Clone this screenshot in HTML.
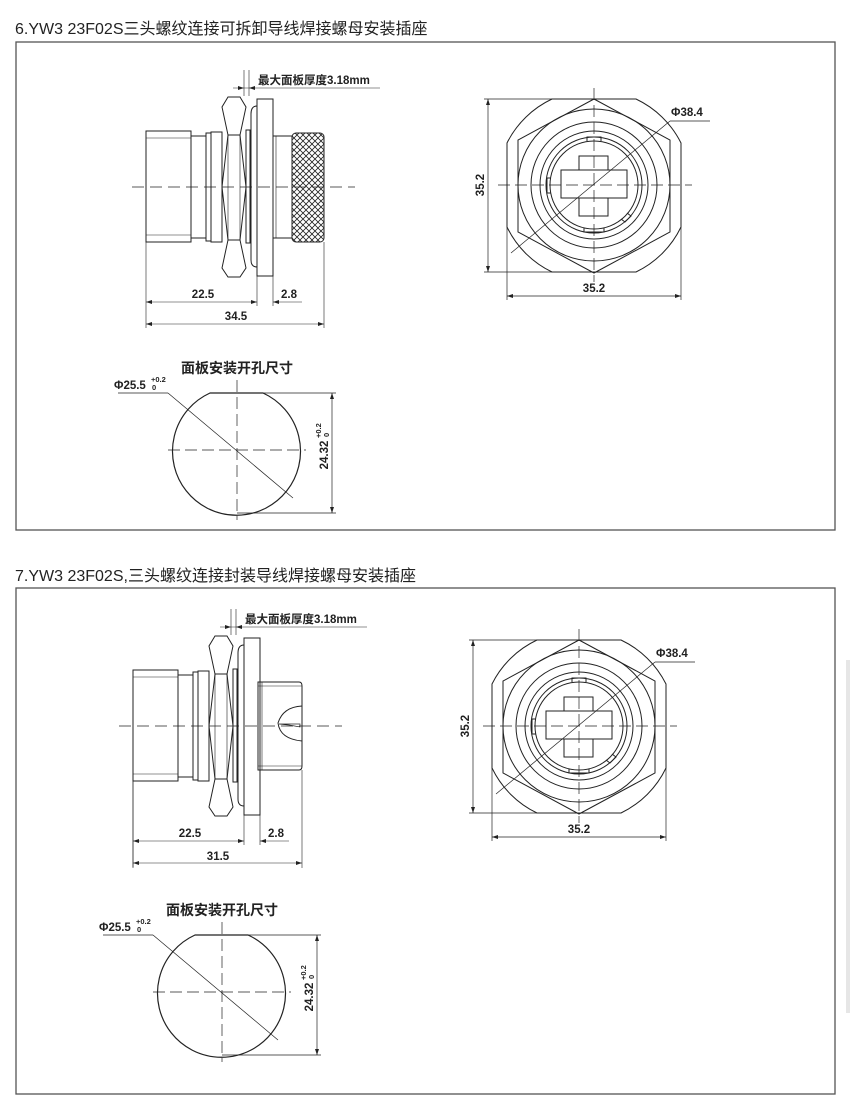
<!DOCTYPE html>
<html><head><meta charset="utf-8"><style>
html,body{margin:0;padding:0;background:#fff;}
svg{display:block;}
text{font-family:"Liberation Sans","Noto Sans CJK SC",sans-serif;fill:#222;}
</style></head><body>
<svg width="850" height="1117" viewBox="0 0 850 1117" xmlns="http://www.w3.org/2000/svg">
<defs>
<pattern id="knurl" width="6" height="6" patternUnits="userSpaceOnUse">
<path d="M0,0 L6,6 M6,0 L0,6" stroke="#222" stroke-width="0.8"/>
</pattern>
<g id="front" fill="none" stroke="#222" stroke-width="1">
  <path d="M552,99 L636,99 A96,96 0 0 1 681,143 L681,227 A96,96 0 0 1 636,272 L552,272 A96,96 0 0 1 507,227 L507,143 A96,96 0 0 1 552,99 Z"/>
  <path d="M594,99 L670,140 L670,232 L594,273 L518,232 L518,140 Z"/>
  <circle cx="594" cy="185" r="76"/>
  <circle cx="594" cy="185" r="63"/>
  <circle cx="594" cy="185" r="54"/>
  <circle cx="594" cy="185" r="48"/>
  <circle cx="594" cy="185" r="44"/>
  <path d="M587,141 L587,137 L601,137 L601,141 M551,178 L547,178 L547,193 L551,193 M584,228 L584,232 L604,232 L604,228 M627,213 L631,216 L625,222 L621,219"/>
  <rect x="561" y="170" width="66" height="28"/>
  <rect x="579" y="156" width="29" height="14"/>
  <rect x="579" y="198" width="29" height="18"/>
  <g stroke-width="0.7">
  <line x1="498" y1="185" x2="692" y2="185" stroke-dasharray="12,5"/>
  <line x1="594" y1="88" x2="594" y2="282" stroke-dasharray="12,5"/>
  <line x1="511" y1="253" x2="670" y2="121"/>
  <line x1="670" y1="121" x2="710" y2="121"/>
  <line x1="484" y1="99" x2="552" y2="99"/>
  <line x1="484" y1="272" x2="552" y2="272"/>
  <line x1="488" y1="99" x2="488" y2="272"/>
  <line x1="507" y1="227" x2="507" y2="300"/>
  <line x1="681" y1="227" x2="681" y2="300"/>
  <line x1="507" y1="296" x2="681" y2="296"/>
  </g>
  <path d="M488,99 l-2,6 l4,0 z M488,272 l-2,-6 l4,0 z M507,296 l6,-2 l0,4 z M681,296 l-6,-2 l0,4 z" fill="#222" stroke="none"/>
</g>
<g id="hole" fill="none" stroke="#222">
  <path d="M210,393 L263,393 A64,64 0 1 1 210,393 Z" stroke-width="1.2"/>
  <g stroke-width="0.7">
  <line x1="168" y1="450" x2="306" y2="450" stroke-dasharray="12,5"/>
  <line x1="237" y1="380" x2="237" y2="520" stroke-dasharray="12,5"/>
  <line x1="118" y1="393" x2="168" y2="393"/>
  <line x1="168" y1="393" x2="293" y2="498"/>
  <line x1="263" y1="393" x2="336" y2="393"/>
  <line x1="237" y1="513" x2="336" y2="513"/>
  <line x1="332" y1="393" x2="332" y2="513"/>
  </g>
  <path d="M332,393 l-2,6 l4,0 z M332,513 l-2,-6 l4,0 z" fill="#222" stroke="none"/>
  <text x="237" y="373" font-size="14" text-anchor="middle" stroke="none" font-weight="bold">面板安装开孔尺寸</text>
  <text x="114" y="389" font-size="11.5" stroke="none" font-weight="bold">Φ25.5</text>
  <text x="151" y="382" font-size="7.5" stroke="none" font-weight="bold">+0.2</text>
  <text x="152" y="390" font-size="7.5" stroke="none" font-weight="bold">0</text>
  <g transform="translate(328,455) rotate(-90)" stroke="none">
    <text x="0" y="0" font-size="11.5" text-anchor="middle" font-weight="bold">24.32</text>
    <text x="17" y="-7" font-size="7.5" font-weight="bold">+0.2</text>
    <text x="18" y="1" font-size="7.5" font-weight="bold">0</text>
  </g>
</g>
<g id="sidecommon" fill="none" stroke="#222" stroke-width="1">
  <rect x="146" y="131" width="45" height="111"/>
  <line x1="146" y1="138" x2="191" y2="138" stroke-width="0.6"/>
  <line x1="146" y1="235" x2="191" y2="235" stroke-width="0.6"/>
  <rect x="191" y="136" width="15" height="102"/>
  <rect x="206" y="133" width="5" height="108"/>
  <rect x="211" y="132" width="11" height="110"/>
  <path d="M228,97 L240,97 L246,107 L240,135 L246,187 L240,240 L246,268 L240,277 L228,277 L222,268 L228,240 L222,187 L228,135 L222,107 Z"/>
  <line x1="228" y1="135" x2="240" y2="135"/>
  <line x1="228" y1="240" x2="240" y2="240"/>
  <line x1="228" y1="135" x2="228" y2="240" stroke-width="0.6"/>
  <line x1="240" y1="135" x2="240" y2="240" stroke-width="0.6"/>
  <rect x="246" y="130" width="4" height="113"/>
  <path d="M257,106 Q251,106 251,114 L251,260 Q251,267 257,267"/>
  <rect x="257" y="99" width="16" height="177"/>
  <line x1="132" y1="187" x2="355" y2="187" stroke-dasharray="12,6" stroke-width="0.7"/>
  <g stroke-width="0.6">
  <line x1="244" y1="70" x2="244" y2="96"/>
  <line x1="249" y1="70" x2="249" y2="96"/>
  <line x1="233" y1="88" x2="380" y2="88"/>
  <line x1="146" y1="242" x2="146" y2="328"/>
  <line x1="257" y1="276" x2="257" y2="306"/>
  <line x1="273" y1="276" x2="273" y2="306"/>
  <line x1="146" y1="302" x2="257" y2="302"/>
  <line x1="273" y1="302" x2="302" y2="302"/>
  </g>
  <path d="M244,88 l-6,-2 l0,4 z M249,88 l6,-2 l0,4 z M146,302 l6,-2 l0,4 z M257,302 l-6,-2 l0,4 z M273,302 l6,-2 l0,4 z" fill="#222" stroke="none"/>
  <text x="258" y="84" font-size="11.5" stroke="none" font-weight="bold">最大面板厚度3.18mm</text>
  <text x="203" y="298" font-size="11.5" text-anchor="middle" stroke="none" font-weight="bold">22.5</text>
  <text x="289" y="298" font-size="11.5" text-anchor="middle" stroke="none" font-weight="bold">2.8</text>
</g>
</defs>

<text x="15" y="34" font-size="16">6.YW3 23F02S三头螺纹连接可拆卸导线焊接螺母安装插座</text>
<rect x="16" y="42" width="819" height="488" fill="none" stroke="#555" stroke-width="1.3"/>
<text x="15" y="581" font-size="16">7.YW3 23F02S,三头螺纹连接封装导线焊接螺母安装插座</text>
<rect x="16" y="588" width="819" height="506" fill="none" stroke="#555" stroke-width="1.3"/>
<rect x="846" y="660" width="4" height="353" fill="#e6e6e6"/>

<use href="#sidecommon"/>
<g fill="none" stroke="#222" stroke-width="1">
  <rect x="273" y="136" width="19" height="102"/>
  <line x1="276" y1="136" x2="276" y2="238" stroke-width="0.6"/>
  <rect x="292" y="133" width="32" height="109" rx="4" fill="url(#knurl)"/>
  <line x1="324" y1="242" x2="324" y2="328" stroke-width="0.6"/>
  <line x1="146" y1="324" x2="324" y2="324" stroke-width="0.6"/>
  <path d="M146,324 l6,-2 l0,4 z M324,324 l-6,-2 l0,4 z" fill="#222" stroke="none"/>
  <text x="236" y="320" font-size="11.5" text-anchor="middle" stroke="none" font-weight="bold">34.5</text>
</g>
<use href="#front"/>
<text x="594" y="292" font-size="11.5" text-anchor="middle" font-weight="bold">35.2</text>
<text x="0" y="0" font-size="11.5" text-anchor="middle" font-weight="bold" transform="translate(484,185) rotate(-90)">35.2</text>
<text x="671" y="116" font-size="11.5" font-weight="bold">Φ38.4</text>
<use href="#hole"/>

<g transform="translate(-13,539)"><use href="#sidecommon"/></g>
<g fill="none" stroke="#222" stroke-width="1">
  <path d="M258,682 L299,682 Q302,682 302,686 L302,766 Q302,770 299,770 L258,770 Z"/>
  <line x1="262" y1="682" x2="262" y2="770" stroke-width="0.6"/>
  <line x1="258" y1="686" x2="302" y2="686" stroke-width="0.6"/>
  <line x1="258" y1="766" x2="302" y2="766" stroke-width="0.6"/>
  <path d="M302,706 Q283,707 278,723 Q280,739 302,741"/>
  <path d="M279,724 L289,725 L300,727 L300,724 L289,724 Z" stroke-width="0.7"/>
  <line x1="133" y1="781" x2="133" y2="868" stroke-width="0.6"/>
  <line x1="302" y1="770" x2="302" y2="868" stroke-width="0.6"/>
  <line x1="133" y1="863" x2="302" y2="863" stroke-width="0.6"/>
  <path d="M133,863 l6,-2 l0,4 z M302,863 l-6,-2 l0,4 z" fill="#222" stroke="none"/>
  <text x="218" y="860" font-size="11.5" text-anchor="middle" stroke="none" font-weight="bold">31.5</text>
</g>
<g transform="translate(-15,541)"><use href="#front"/></g>
<text x="579" y="833" font-size="11.5" text-anchor="middle" font-weight="bold">35.2</text>
<text x="0" y="0" font-size="11.5" text-anchor="middle" font-weight="bold" transform="translate(469,726) rotate(-90)">35.2</text>
<text x="656" y="657" font-size="11.5" font-weight="bold">Φ38.4</text>
<g transform="translate(-15,542)"><use href="#hole"/></g>
</svg>
</body></html>
